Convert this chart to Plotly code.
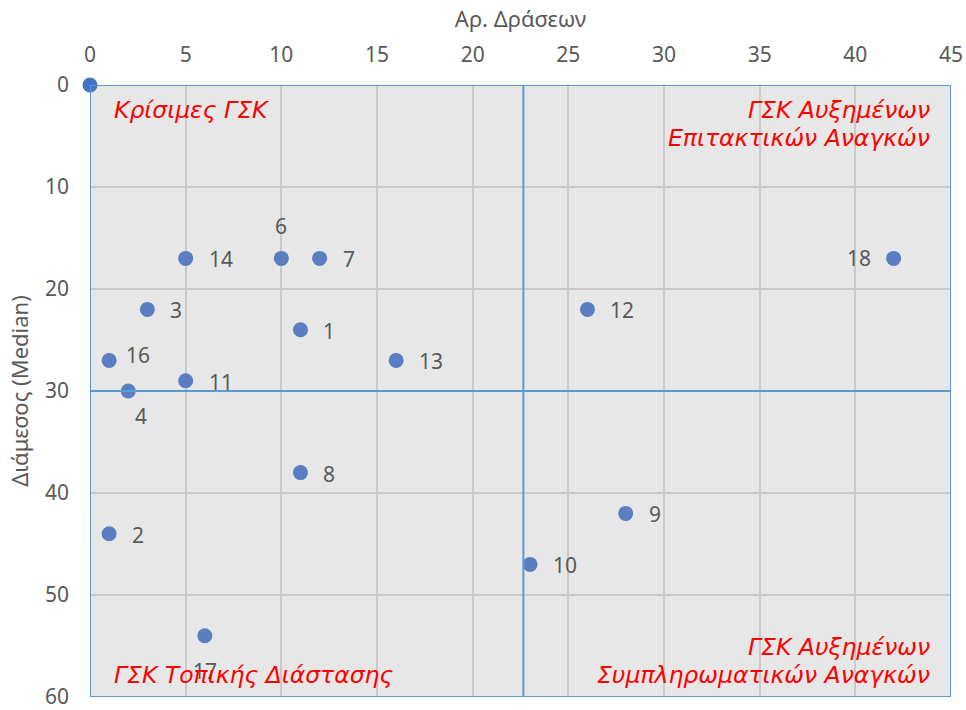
import plotly.graph_objects as go

# Data
labels = ["1", "2", "3", "4", "6", "7", "8", "9", "10", "11", "12", "13", "14", "16", "17", "18"]
actions = [11, 1, 3, 2, 10, 12, 11, 28, 23, 5, 26, 16, 5, 1, 6, 42]
median = [24, 44, 22, 30, 17, 17, 38, 42, 47, 29, 22, 27, 17, 27, 54, 17]

x_ticks = [0, 5, 10, 15, 20, 25, 30, 35, 40, 45]
y_ticks = [0, 10, 20, 30, 40, 50, 60]

x_split = 22.65
y_split = 30

quadrant_lines = {
    "top_left": ["Κρίσιμες ΓΣΚ"],
    "top_right": ["ΓΣΚ Αυξημένων", "Επιτακτικών Αναγκών"],
    "bottom_left": ["ΓΣΚ Τοπικής Διάστασης"],
    "bottom_right": ["ΓΣΚ Αυξημένων", "Συμπληρωματικών Αναγκών"],
}

# label placement style (not data)
label_pos = {"6": "above", "4": "below4", "17": "below", "18": "left", "16": "right_up"}

FONT = "Noto Sans"
QFONT = "DejaVu Sans"
GREY = "#595959"
BLUE_LINE = "#5B9BD5"

fig = go.Figure()

fig.add_trace(go.Scatter(
    x=actions, y=median, mode="markers",
    marker=dict(size=15, color="#5B7EC1"),
    cliponaxis=False, showlegend=False, hoverinfo="skip"))

fig.add_trace(go.Scatter(
    x=[0], y=[0], mode="markers",
    marker=dict(size=15, color="#4472C4"),
    cliponaxis=False, showlegend=False, hoverinfo="skip"))

# quadrant lines
fig.add_shape(type="line", x0=x_split, x1=x_split, y0=0, y1=60,
              line=dict(color=BLUE_LINE, width=2))
fig.add_shape(type="line", x0=0, x1=45, y0=y_split, y1=y_split,
              line=dict(color=BLUE_LINE, width=2))
# plot border
fig.add_shape(type="rect", x0=0, x1=45, y0=0, y1=60,
              line=dict(color=BLUE_LINE, width=2), layer="above")

for lab, xv, yv in zip(labels, actions, median):
    pos = label_pos.get(lab, "right")
    kw = dict(x=xv, y=yv, text=lab, showarrow=False,
              font=dict(family=FONT, size=21, color=GREY))
    if pos == "right":
        kw.update(xanchor="left", xshift=21, yshift=-1)
    elif pos == "right_up":
        kw.update(xanchor="left", xshift=15, yshift=5)
    elif pos == "above":
        kw.update(xanchor="center", yshift=32)
    elif pos == "below4":
        kw.update(xanchor="center", xshift=13, yshift=-25)
    elif pos == "below":
        kw.update(xanchor="center", yshift=-35)
    elif pos == "left":
        kw.update(xanchor="right", xshift=-21)
    fig.add_annotation(**kw)

qfont = dict(family=QFONT, size=23.5, color="#FF0000", style="italic")
corner_cfg = {
    "top_left": (0.0256, "left", [0.959]),
    "top_right": (0.978, "right", [0.959, 0.913]),
    "bottom_left": (0.0256, "left", [0.036]),
    "bottom_right": (0.978, "right", [0.0817, 0.036]),
}
for key, lines in quadrant_lines.items():
    xp, anchor, ys = corner_cfg[key]
    for line, yp in zip(lines, ys):
        fig.add_annotation(x=xp, y=yp, xref="paper", yref="paper", text=line,
                           showarrow=False, xanchor=anchor, yanchor="middle", font=qfont)

fig.update_layout(
    width=966, height=710,
    margin=dict(l=90, r=15, t=85, b=13),
    paper_bgcolor="white", plot_bgcolor="#E7E7E7",
    font=dict(family=FONT, color=GREY),
    xaxis=dict(side="top", range=[0, 45], tickvals=x_ticks, showgrid=True, automargin=False,
               gridcolor="#C9C9C9", gridwidth=2, zeroline=False, showline=False,
               tickfont=dict(size=21, color=GREY), ticks="", ticklabelstandoff=18,
               ticklabeloverflow="allow",
               title=dict(text="Αρ. Δράσεων", font=dict(size=22, color=GREY), standoff=6)),
    yaxis=dict(range=[60, 0], tickvals=y_ticks, showgrid=True, automargin=False,
               gridcolor="#C9C9C9", gridwidth=2, zeroline=False, showline=False,
               tickfont=dict(size=21, color=GREY), ticks="", ticklabelstandoff=20,
               ticklabeloverflow="allow",
               title=dict(text="Διάμεσος (Median)", font=dict(size=22, color=GREY), standoff=10)),
)

fig.write_html("out.html", config={"displayModeBar": False},
               post_script="document.body.style.margin='0';")
